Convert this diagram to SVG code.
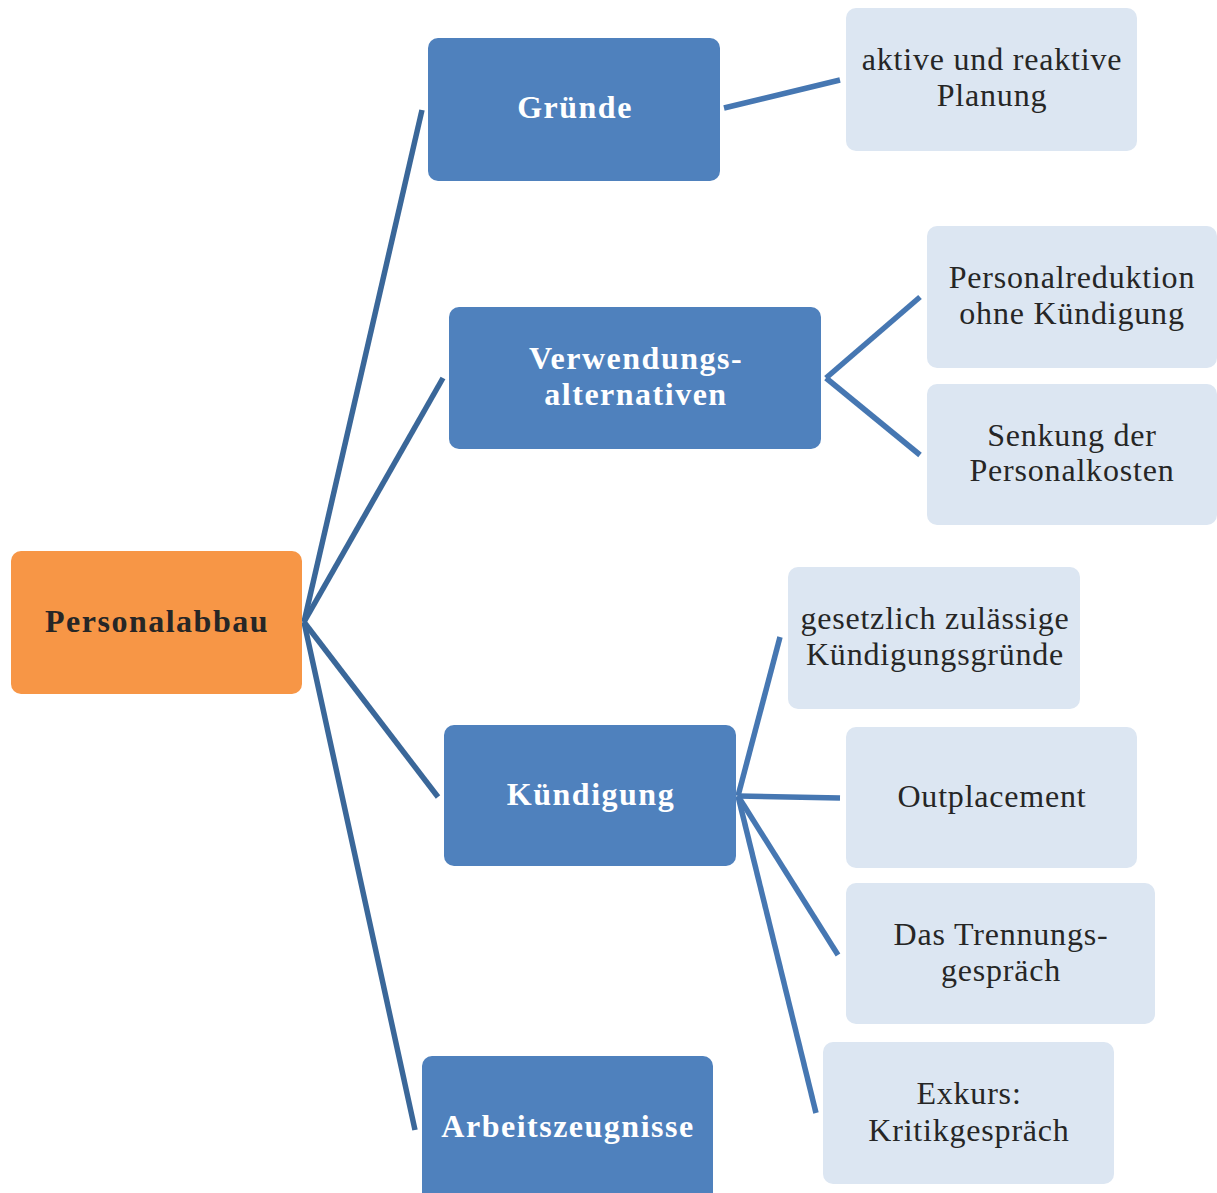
<svg xmlns="http://www.w3.org/2000/svg" width="1217" height="1193" viewBox="0 0 1217 1193">
<style>
.root{fill:#f79646}
.mid{fill:#4f81bd}
.leaf{fill:#dce6f2}
.tb{font-family:"Liberation Serif",serif;font-weight:bold;text-anchor:middle;font-size:32px;letter-spacing:1.5px}
.tl{font-family:"Liberation Serif",serif;text-anchor:middle;font-size:32px;letter-spacing:0.8px;fill:#262626}
.c1{stroke:#3a6799;stroke-width:5.5;fill:none}
.c2{stroke:#4677b2;stroke-width:5.5;fill:none}
</style>
<rect width="1217" height="1193" fill="#ffffff"/>
<g id="connectors">
<line class="c1" x1="304" y1="622" x2="422" y2="110"/>
<line class="c1" x1="304" y1="622" x2="443" y2="378"/>
<line class="c1" x1="304" y1="622" x2="438" y2="797"/>
<line class="c1" x1="304" y1="622" x2="415" y2="1130"/>
<line class="c2" x1="724" y1="108" x2="840" y2="80"/>
<line class="c2" x1="826" y1="378" x2="920" y2="297"/>
<line class="c2" x1="826" y1="378" x2="920" y2="455"/>
<line class="c2" x1="738" y1="796" x2="780" y2="637"/>
<line class="c2" x1="738" y1="796" x2="840" y2="798"/>
<line class="c2" x1="738" y1="796" x2="838" y2="955"/>
<line class="c2" x1="738" y1="796" x2="816" y2="1113"/>
</g>
<g id="n-personalabbau">
<rect class="root" x="11" y="551" width="291" height="143" rx="10"/>
<text class="tb" x="157" y="632" fill="#262626">Personalabbau</text>
</g>
<g id="n-gruende">
<rect class="mid" x="428" y="38" width="292" height="143" rx="10"/>
<text class="tb" x="575" y="118" fill="#ffffff">Gründe</text>
</g>
<g id="n-verwendung">
<rect class="mid" x="449" y="307" width="372" height="142" rx="10"/>
<text class="tb" x="636" y="369" fill="#ffffff">Verwendungs-</text>
<text class="tb" x="636" y="405" fill="#ffffff">alternativen</text>
</g>
<g id="n-kuendigung">
<rect class="mid" x="444" y="725" width="292" height="141" rx="10"/>
<text class="tb" x="591" y="805" fill="#ffffff">Kündigung</text>
</g>
<g id="n-arbeitszeugnisse">
<rect class="mid" x="422" y="1056" width="291" height="150" rx="10"/>
<text class="tb" x="568" y="1137" fill="#ffffff">Arbeitszeugnisse</text>
</g>
<g id="n-aktive">
<rect class="leaf" x="846" y="8" width="291" height="143" rx="10"/>
<text class="tl" x="992" y="70">aktive und reaktive</text>
<text class="tl" x="992" y="106">Planung</text>
</g>
<g id="n-personalreduktion">
<rect class="leaf" x="927" y="226" width="290" height="142" rx="10"/>
<text class="tl" x="1072" y="288">Personalreduktion</text>
<text class="tl" x="1072" y="324">ohne Kündigung</text>
</g>
<g id="n-senkung">
<rect class="leaf" x="927" y="384" width="290" height="141" rx="10"/>
<text class="tl" x="1072" y="446">Senkung der</text>
<text class="tl" x="1072" y="481">Personalkosten</text>
</g>
<g id="n-gesetzlich">
<rect class="leaf" x="788" y="567" width="292" height="142" rx="10"/>
<text class="tl" x="935" y="629">gesetzlich zulässige</text>
<text class="tl" x="935" y="665">Kündigungsgründe</text>
</g>
<g id="n-outplacement">
<rect class="leaf" x="846" y="727" width="291" height="141" rx="10"/>
<text class="tl" x="992" y="807">Outplacement</text>
</g>
<g id="n-trennung">
<rect class="leaf" x="846" y="883" width="309" height="141" rx="10"/>
<text class="tl" x="1001" y="945">Das Trennungs-</text>
<text class="tl" x="1001" y="981">gespräch</text>
</g>
<g id="n-exkurs">
<rect class="leaf" x="823" y="1042" width="291" height="142" rx="10"/>
<text class="tl" x="969" y="1104">Exkurs:</text>
<text class="tl" x="969" y="1141">Kritikgespräch</text>
</g>
</svg>
